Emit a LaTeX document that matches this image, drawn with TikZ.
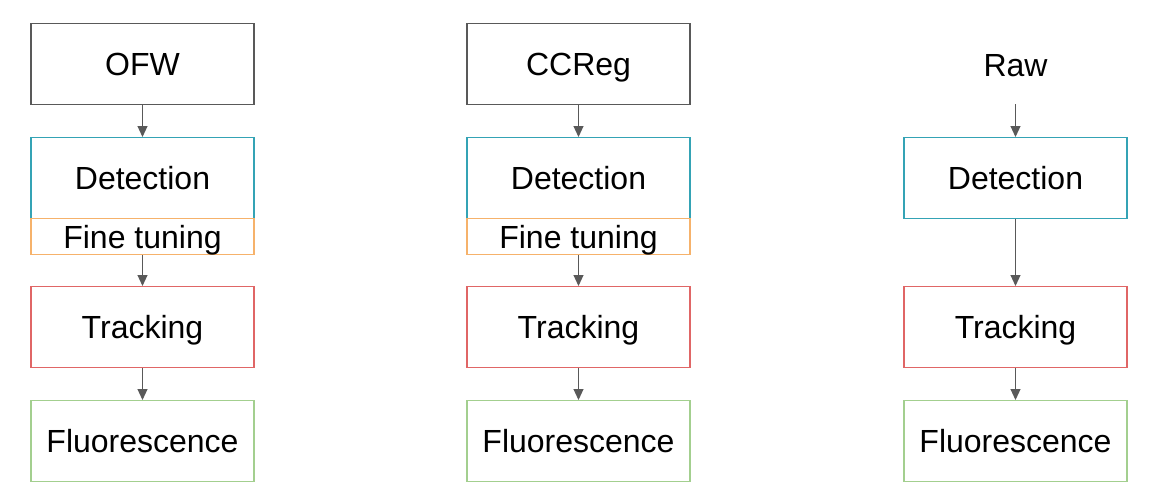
\documentclass[tikz,border=0pt]{standalone}
\usepackage{fontspec}
\setmainfont{Liberation Sans}
\usetikzlibrary{arrows.meta}
\definecolor{cgray}{HTML}{595959}
\definecolor{cteal}{HTML}{34A3B5}
\definecolor{corange}{HTML}{F6B26B}
\definecolor{cred}{HTML}{E06666}
\definecolor{cgreen}{HTML}{A3CF8F}
\tikzset{
  box/.style={draw, line width=1.1pt, minimum width=223pt, inner sep=0pt, text height=23pt, text depth=0pt, font=\fontsize{32}{36}\selectfont, anchor=north},
  tallbox/.style={box, minimum height=81pt},
  thinbox/.style={box, minimum height=36pt},
  conn/.style={draw=cgray, line width=1.1pt, -{Triangle[width=10pt,length=11pt]}, fill=cgray},
  lbl/.style={font=\fontsize{32}{36}\selectfont, inner sep=0pt, text height=23pt, text depth=0pt}
}
\begin{document}
\begin{tikzpicture}[x=1pt,y=-1pt]
\useasboundingbox (0,0) rectangle (1149,501);
% column 1
\node[tallbox, draw=cgray] (ofw) at (142.5,23) {OFW};
\node[tallbox, draw=cteal] (det1) at (142.5,137) {Detection};
\node[thinbox, draw=corange] (ft1) at (142.5,218) {Fine tuning};
\node[tallbox, draw=cred] (tr1) at (142.5,286) {Tracking};
\node[tallbox, draw=cgreen] (fl1) at (142.5,400) {Fluorescence};
\draw[conn] (ofw.south) -- (det1.north);
\draw[conn] (ft1.south) -- (tr1.north);
\draw[conn] (tr1.south) -- (fl1.north);
% column 2
\node[tallbox, draw=cgray] (ccr) at (578.5,23) {CCReg};
\node[tallbox, draw=cteal] (det2) at (578.5,137) {Detection};
\node[thinbox, draw=corange] (ft2) at (578.5,218) {Fine tuning};
\node[tallbox, draw=cred] (tr2) at (578.5,286) {Tracking};
\node[tallbox, draw=cgreen] (fl2) at (578.5,400) {Fluorescence};
\draw[conn] (ccr.south) -- (det2.north);
\draw[conn] (ft2.south) -- (tr2.north);
\draw[conn] (tr2.south) -- (fl2.north);
% column 3
\node[lbl] (raw) at (1015.5,65) {Raw};
\coordinate (rawend) at (1015.5,104);
\node[tallbox, draw=cteal] (det3) at (1015.5,137) {Detection};
\node[tallbox, draw=cred] (tr3) at (1015.5,286) {Tracking};
\node[tallbox, draw=cgreen] (fl3) at (1015.5,400) {Fluorescence};
\draw[conn] (rawend) -- (det3.north);
\draw[conn] (det3.south) -- (tr3.north);
\draw[conn] (tr3.south) -- (fl3.north);
\end{tikzpicture}
\end{document}
